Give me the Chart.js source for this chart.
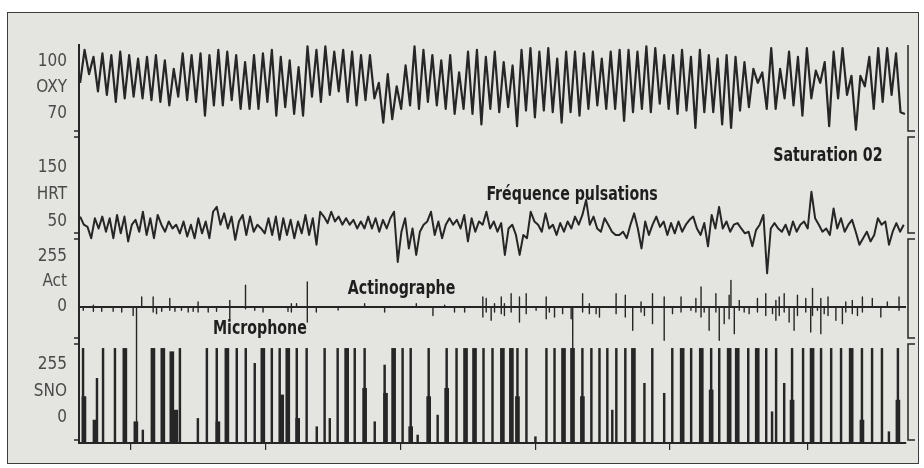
<!DOCTYPE html>
<html>
<head>
<meta charset="utf-8">
<script src="https://cdn.jsdelivr.net/npm/chart.js@4.4.1/dist/chart.umd.min.js"></script>
<style>
  html, body { margin: 0; padding: 0; background: #fff; }
  #frame { position: absolute; left: 7px; top: 12px; width: 910px; height: 450px; border: 1.5px solid #3c3c3c; background: #e4e5e0; }
  #chart { position: absolute; left: 0; top: 0; }
</style>
</head>
<body>
<div id="frame"></div>
<canvas id="chart" width="924" height="468"></canvas>
<script>
const INK = '#262626';
const FONT = "'DejaVu Sans Condensed', 'Liberation Sans Narrow', sans-serif";

// time in minutes, a mark every hour
const X_MAX = 368;
const HOUR_MARKS = [23, 83, 143, 203, 263, 324];

// oxymetry, read at each peak and trough
const OXY_START = 0.5, OXY_STEP = 1.984;
const OXY = [88,107,93,103,83,105,81,104,77,106, 79,104,80,102,79,103,78,104,77,101,
  75,96,80,105,78,104,77,105,69,104, 75,107,75,106,78,104,73,100,73,104,
  73,105,77,107,69,103,74,101,70,97, 69,109,80,107,77,109,81,106,83,
  107,77,106,75,104,78,104,79,88,65, 93,67,86,73,98,75,109,73,107,77,
  104,75,101,73,104,70,94,73,106,70, 107,64,103,73,106,71,100,74,98,63,
  107,72,108,68,106,72,108,71,102,65, 106,71,106,69,105,73,106,75,102,73, 106,
  73,107,66,107,71,106,73,109,71,108, 76,104,73,104,70,107,72,103,62,107,
  71,104,71,102,64,104,62,103,72,100, 74,96,88,94,73,108,73,96,79,106,
  75,103,69,108,79,95,88,100,63,106, 79,108,81,92,61,92,86,103,73,108,
  77,108,81,105,71,70];

// pulse rate
const HRT_START = 0.5, HRT_STEP = 1.6435;
const HRT = [60,45,41,20,57,38,60,32,57,20, 63,29,60,14,45,54,32,69,26,57,
  20,63,45,32,51,38,45,29,51,23, 45,20,57,29,51,20,69,78,45,66,
  38,60,17,51,63,26,60,32,45,38, 29,57,26,60,17,57,26,54,20,51,
  29,63,26,57,8,69,60,48,69,51, 60,45,57,45,54,38,
  51,38,60,38,57,32,54,38,57,69, -24,32,57,1,38,-11,32,45,51,69,
  26,51,20,45,57,45,54,38,63,14, 57,32,51,45,69,38,51,32,48,-11,
  38,45,26,-11,26,20,69,51,45,32, 66,38,45,26,48,32,51,38,60,45,
  63,91,45,60,38,32,57,45,32,26,
  26,32,20,45,66,38,1,51,26,45, 60,41,51,26,48,29,51,32,45,54,
  60,38,26,48,5,63,38,78,38,51, 32,45,48,38,29,32,5,35,45,63,
  -45,38,48,38,32,45,26,51,32,45, 51,38,106,57,45,32,38,26,75,38,
  57,32,45,54,32,8,20,32,14,26, 57,45,51,8,32,48,32,45];

// actigraph movements: time, height above and below the line
const ACT_T = [1.9,6.4,10.1,15.2,19.0,24.1,25.6,27.9,33.0,34.5,
  36.8,40.4,42.7,45.6,48.6,50.8,53.0,57.5,61.2,67.1,
  74.1,78.2,81.9,93.0,94.5,96.8,101.6,105.6,115.3,127.1,
  136.0,150.1,157.5,162.7,167.1,171.6,179.7,181.2,183.4,184.9,
  187.9,189.3,192.3,196.0,199.0,203.4,207.9,209.3,211.6,215.2,
  219.0,219.7,224.1,227.1,230.1,231.6,239.0,243.1,246.4,250.1,
  251.6,255.2,260.4,264.1,267.9,272.3,274.5,276.8,278.2,280.4,
  283.4,284.9,287.1,289.3,290.1,291.6,293.8,296.0,298.2,301.9,
  305.6,308.6,310.1,311.6,313.8,316.0,318.2,319.7,323.4,325.6,
  326.4,328.6,330.1,331.6,333.3,336.8,339.7,341.2,344.1,346.4,
  348.6,353.0,356.8,359.7,364.9];
const ACT_UP = [0,9,0,0,0,0,0,51,51,0, 0,43,0,0,0,0,26,0,0,34,
  111,0,0,0,17,17,128,0,0,17, 0,17,0,9,0,0,51,43,0,17,
  51,17,68,51,68,0,51,0,0,0, 0,0,68,17,0,0,68,60,0,26,
  0,68,51,0,51,0,43,102,0,0, 68,0,0,60,136,0,34,0,0,43,
  68,0,34,51,68,0,0,60,43,0, 94,0,43,0,51,0,0,26,34,0,
  51,43,0,26,51];
const ACT_DOWN = [17,22,22,22,26,43,600,0,26,34, 22,17,22,17,26,22,26,26,22,60,
  9,17,26,22,26,0,77,26,15,0, 26,0,43,0,26,26,51,26,68,26,
  34,43,26,77,34,17,60,26,51,34, 60,230,26,34,34,51,34,51,119,26,
  43,85,170,34,26,17,26,51,26,119, 26,170,85,60,0,136,17,26,34,26,
  43,34,68,43,26,77,119,43,26,128, 43,17,136,34,43,68,85,26,34,43,
  26,0,51,0,17];

// microphone (snoring) bursts: thin strokes and wide ones
const SNO_T = [1.8,8.0,10.7,16.0,28.4,44.9,52.9,56.9,61.3,70.2,
  74.2,78.2,85.8,89.3,96.9,101.3,105.8,109.3,111.6,115.1,
  122.7,127.1,131.6,136.0,144.0,147.6,150.7,155.6,159.6,163.6,
  168.0,180.0,184.0,195.1,199.1,203.1,208.0,211.6,224.0,228.0,
  231.6,235.1,237.3,239.1,243.1,251.6,255.1,260.4,264.0,272.4,
  281.3,284.9,297.8,305.8,308.4,310.2,313.8,317.3,322.2,330.2,
  334.7,339.1,348.4,352.9,357.3,360.4,364.4];
const SNO_TOP = [335,191,335,335,-58,335,-2,335,335,335,
  335,263,335,335,335,335,-42,335,-2,335,
  335,335,-18,255,335,335,-82,335,14,335,
  335,335,335,335,335,-90,335,335,335,335,
  335,335,38,335,335,167,335,119,335,335,
  335,335,335,335,30,335,167,335,335,335,
  335,335,335,335,335,-66,335];
const SNO_WIDE_T = [2.2,7.1,20.4,25.3,32.9,37.3,41.3,43.1,61.8,65.8,
  81.8,90.2,92.9,97.3,119.1,127.1,136.4,140.0,147.6,155.6,
  163.6,172.0,176.0,188.4,192.4,195.1,215.6,219.6,224.0,246.7,
  268.4,276.9,281.3,289.3,292.9,301.8,317.3,326.2,343.6,348.4,364.4];
const SNO_WIDE_TOP = [103,-10,335,-18,335,335,319,38,-18,335,
  335,111,335,-2,335,143,119,335,-42,103,
  143,335,335,335,335,103,335,335,103,335,
  335,335,135,335,335,335,86,335,335,-10,86];

const NOTES = [
  { text: 'Saturation 02', x: 308.9, axis: 'yHrt', y: 173 },
  { text: 'Fréquence pulsations', x: 181.3, axis: 'yHrt', y: 100 },
  { text: 'Actinographe', x: 119.6, axis: 'yAct', y: 94 },
  { text: 'Microphone', x: 59.6, axis: 'yAct', y: -112 }
];

const PANELS = {
  ySno: { min: -120.3, max: 370.5, weight: 102, ticks: [0, 127.5, 255], labels: ['0', 'SNO', '255'] },
  yAct: { min: -173.4, max: 362.1, weight: 105, ticks: [0, 127.5, 255], labels: ['0', 'Act', '255'] },
  yHrt: { min: 24.07, max: 212.96, weight: 102, ticks: [50, 100, 150], labels: ['50', 'HRT', '150'] },
  yOxy: { min: 58.46, max: 109.81, weight: 89, ticks: [70, 85, 100], labels: ['70', 'OXY', '100'] }
};
const PANEL_ORDER = ['yOxy', 'yHrt', 'yAct', 'ySno'];

function yScale(id) {
  const p = PANELS[id];
  return {
    type: 'linear', position: 'left', stack: 'panels', stackWeight: p.weight,
    min: p.min, max: p.max, bounds: 'data', beginAtZero: false,
    afterBuildTicks: s => { s.ticks = p.ticks.map(v => ({ value: v })); },
    afterFit: s => { s.width = 72; },
    ticks: {
      autoSkip: false, padding: 12, color: '#4a4a4a',
      font: { family: FONT, size: 17 },
      callback: (v, i) => p.labels[i]
    },
    grid: {
      drawOnChartArea: id === 'yAct', drawTicks: false, lineWidth: 2,
      color: c => (c.tick && c.tick.value === 0) ? INK : 'rgba(0,0,0,0)'
    },
    border: { display: true, color: INK, width: 2 }
  };
}

const actPoints = [{ x: 0, y: 0 }];
ACT_T.forEach((t, i) => {
  actPoints.push({ x: t, y: 0 }, { x: t, y: ACT_UP[i] }, { x: t, y: -ACT_DOWN[i] }, { x: t, y: 0 });
});
actPoints.push({ x: X_MAX, y: 0 });

// traces run over into the neighbouring panels, as on the paper
const trace = (data, yAxisID, width) => ({
  type: 'line', data, yAxisID, xAxisID: 'x', borderColor: INK, borderWidth: width,
  pointRadius: 0, tension: 0, borderJoinStyle: 'round', fill: false, clip: false
});
const bars = (ts, tops, thickness) => ({
  type: 'bar', xAxisID: 'x', yAxisID: 'ySno',
  data: ts.map((t, i) => ({ x: t, y: tops[i] })),
  base: PANELS.ySno.min, barThickness: thickness, grouped: false,
  backgroundColor: INK, borderWidth: 0
});

const NOTE_SQUEEZE = 0.83;
const marks = {
  id: 'marks',
  afterDatasetsDraw(chart) {
    const { ctx, scales } = chart;
    const xs = scales.x;
    ctx.save();
    ctx.strokeStyle = INK;
    ctx.lineWidth = 1.5;
    PANEL_ORDER.forEach((id, k) => {
      const s = scales[id];
      const top = s.top + 3, bot = s.bottom - 3, r = xs.right + 2, l = s.right;
      ctx.beginPath();
      if (k) { ctx.moveTo(r + 7, top); ctx.lineTo(r, top); } else { ctx.moveTo(r, s.top); }
      ctx.lineTo(r, bot); ctx.lineTo(r + 7, bot);
      if (k) { ctx.moveTo(l - 5, top); ctx.lineTo(l, top); }
      ctx.moveTo(l - 5, bot); ctx.lineTo(l, bot);
      ctx.stroke();
    });
    ctx.fillStyle = '#1e1e1e';
    ctx.font = 'bold 19px ' + FONT;
    ctx.textBaseline = 'middle';
    NOTES.forEach(n => {
      ctx.save();
      ctx.translate(xs.getPixelForValue(n.x), scales[n.axis].getPixelForValue(n.y));
      ctx.scale(NOTE_SQUEEZE, 1);
      ctx.fillText(n.text, 0, 0);
      ctx.restore();
    });
    ctx.restore();
  }
};

new Chart(document.getElementById('chart'), {
  type: 'line',
  data: {
    datasets: [
      trace(OXY.map((v, i) => ({ x: OXY_START + i * OXY_STEP, y: v })), 'yOxy', 2.2),
      trace(HRT.map((v, i) => ({ x: HRT_START + i * HRT_STEP, y: v })), 'yHrt', 2),
      trace(actPoints, 'yAct', 1.4),
      bars(SNO_T, SNO_TOP, 1.8),
      bars(SNO_WIDE_T, SNO_WIDE_TOP, 4)
    ]
  },
  options: {
    responsive: false,
    animation: false,
    events: [],
    layout: { padding: { left: 7, right: 18, top: 45, bottom: 0 } },
    plugins: { legend: { display: false }, tooltip: { enabled: false } },
    scales: {
      x: {
        type: 'linear', min: 0, max: X_MAX, offset: false,
        afterBuildTicks: s => { s.ticks = HOUR_MARKS.map(v => ({ value: v })); },
        afterFit: s => { s.height = 25; },
        ticks: { display: false },
        grid: { offset: false, drawOnChartArea: false, drawTicks: true, tickLength: 7, color: INK, lineWidth: 1.2 },
        border: { display: true, color: INK, width: 2 }
      },
      ySno: yScale('ySno'),
      yAct: yScale('yAct'),
      yHrt: yScale('yHrt'),
      yOxy: yScale('yOxy')
    }
  },
  plugins: [marks]
});
</script>
</body>
</html>
